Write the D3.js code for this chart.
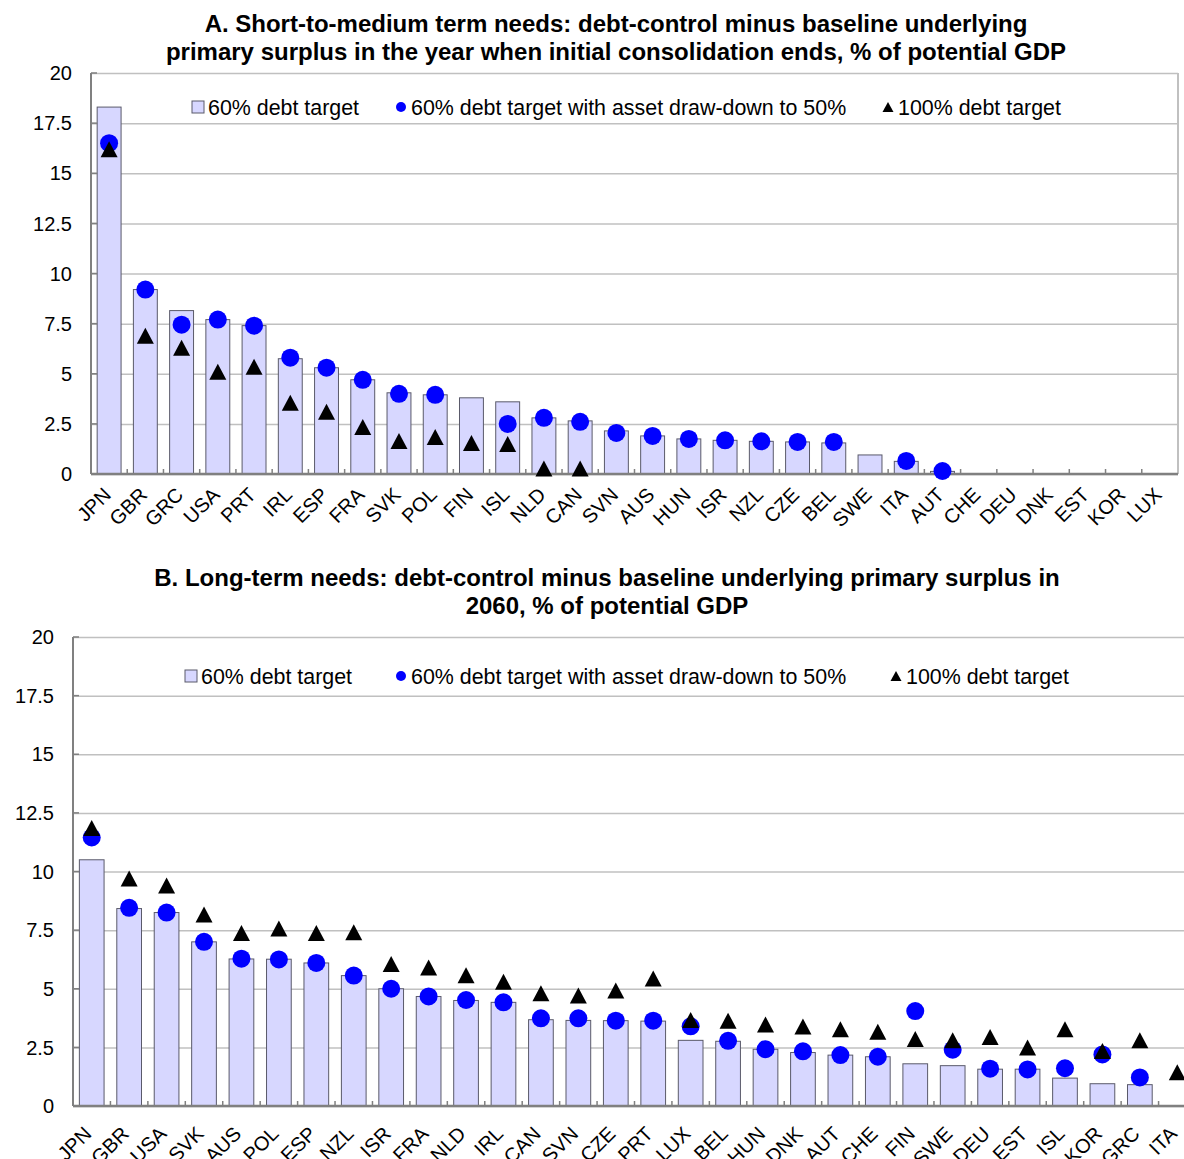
<!DOCTYPE html>
<html>
<head>
<meta charset="utf-8">
<script src="https://cdn.jsdelivr.net/npm/d3@7"></script>
<style>
  body { margin: 0; background: #fff; }
  svg { display: block; font-family: 'Liberation Sans', Arial, sans-serif; }
  .grid line { stroke: #c0c0c0; stroke-width: 1.5; }
  .grid path { display: none; }
</style>
</head>
<body>
<div id="chart"></div>
<script>
// Panel A data: year when initial consolidation ends
var catsA = ['JPN', 'GBR', 'GRC', 'USA', 'PRT', 'IRL', 'ESP', 'FRA', 'SVK', 'POL', 'FIN', 'ISL', 'NLD', 'CAN', 'SVN',
  'AUS', 'HUN', 'ISR', 'NZL', 'CZE', 'BEL', 'SWE', 'ITA', 'AUT', 'CHE', 'DEU', 'DNK', 'EST', 'KOR', 'LUX'];
var barA = [18.3, 9.2, 8.15, 7.7, 7.4, 5.75, 5.3, 4.7, 4.05, 3.95, 3.8, 3.6, 2.8, 2.65, 2.15,
  1.9, 1.75, 1.68, 1.63, 1.6, 1.55, 0.95, 0.63, 0.13, 0, 0, 0, 0, 0, 0];
var circA = [16.5, 9.2, 7.45, 7.7, 7.4, 5.8, 5.3, 4.7, 4.0, 3.95, null, 2.5, 2.8, 2.6, 2.05,
  1.9, 1.75, 1.68, 1.63, 1.6, 1.6, null, 0.65, 0.15, null, null, null, null, null, null];
var triA = [16.2, 6.9, 6.3, 5.1, 5.35, 3.55, 3.1, 2.35, 1.65, 1.85, 1.55, 1.5, 0.28, 0.28, null,
  null, null, null, null, null, null, null, null, null, null, null, null, null, null, null];

// Panel B data: 2060
var catsB = ['JPN', 'GBR', 'USA', 'SVK', 'AUS', 'POL', 'ESP', 'NZL', 'ISR', 'FRA', 'NLD', 'IRL', 'CAN', 'SVN', 'CZE',
  'PRT', 'LUX', 'BEL', 'HUN', 'DNK', 'AUT', 'CHE', 'FIN', 'SWE', 'DEU', 'EST', 'ISL', 'KOR', 'GRC', 'ITA'];
var barB = [10.5, 8.42, 8.25, 7.0, 6.27, 6.26, 6.1, 5.56, 5.0, 4.67, 4.5, 4.42, 3.68, 3.65, 3.64,
  3.62, 2.8, 2.76, 2.42, 2.28, 2.17, 2.1, 1.8, 1.72, 1.57, 1.57, 1.19, 0.95, 0.91, 0];
var circB = [11.45, 8.45, 8.25, 7.0, 6.28, 6.25, 6.1, 5.56, 5.0, 4.67, 4.52, 4.42, 3.74, 3.74, 3.64,
  3.64, 3.4, 2.78, 2.42, 2.33, 2.17, 2.1, 4.05, 2.4, 1.59, 1.56, 1.61, 2.2, 1.22, null];
var triB = [11.85, 9.7, 9.4, 8.17, 7.38, 7.57, 7.38, 7.41, 6.06, 5.91, 5.58, 5.3, 4.81, 4.71, 4.93,
  5.44, 3.67, 3.64, 3.48, 3.39, 3.27, 3.17, 2.86, 2.8, 2.94, 2.49, 3.27, 2.35, 2.8, 1.44];

var yTicks = [0, 2.5, 5, 7.5, 10, 12.5, 15, 17.5, 20];
var legendLabels = ['60% debt target', '60% debt target with asset draw-down to 50%', '100% debt target'];

var titleA = ['A. Short-to-medium term needs: debt-control minus baseline underlying',
  'primary surplus in the year when initial consolidation ends, % of potential GDP'];
var titleB = ['B. Long-term needs: debt-control minus baseline underlying primary surplus in',
  '2060, % of potential GDP'];

var width = 1184;
var height = 1159;

var svg = d3.select('#chart').append('svg')
  .attr('width', width)
  .attr('height', height);

// 三角マーカー（外接矩形の中心が値の位置）
function triPath(w, h) {
  return 'M0,' + (-h / 2) + 'L' + (w / 2) + ',' + (h / 2) + 'L' + (-w / 2) + ',' + (h / 2) + 'Z';
}

function drawPanel(opt) {
  var x = d3.scaleBand().domain(opt.cats).range([opt.left, opt.right]).paddingInner(0.34).paddingOuter(0.17);
  var y = d3.scaleLinear().domain([0, 20]).range([opt.bottom, opt.top]);
  var g = svg.append('g');

  // title
  g.selectAll('.title').data(opt.title).enter().append('text')
    .attr('x', opt.titleX)
    .attr('y', function(d, i) { return opt.titleY + i * 28; })
    .attr('text-anchor', 'middle')
    .attr('font-weight', 'bold')
    .attr('font-size', 24)
    .text(function(d) { return d; });

  // horizontal grid lines
  g.append('g').attr('class', 'grid')
    .attr('transform', 'translate(' + opt.left + ',0)')
    .call(d3.axisLeft(y).tickValues(yTicks).tickSize(-(opt.right - opt.left)).tickFormat(''));

  // right border
  g.append('line')
    .attr('x1', opt.right).attr('x2', opt.right)
    .attr('y1', opt.top).attr('y2', opt.bottom)
    .attr('stroke', '#c0c0c0').attr('stroke-width', 2);

  // y axis labels
  g.selectAll('.ylab').data(yTicks).enter().append('text')
    .attr('x', opt.left - 19)
    .attr('y', function(d) { return y(d); })
    .attr('dy', '0.36em')
    .attr('text-anchor', 'end')
    .attr('font-size', 20)
    .text(function(d) { return d; });

  // bars
  g.selectAll('.bar').data(opt.bars.map(function(v, i) { return {c: opt.cats[i], v: v}; })
    .filter(function(d) { return d.v > 0; }))
    .enter().append('rect')
    .attr('x', function(d) { return x(d.c); })
    .attr('y', function(d) { return y(d.v); })
    .attr('width', x.bandwidth())
    .attr('height', function(d) { return y(0) - y(d.v); })
    .attr('fill', '#d7d7ff')
    .attr('stroke', '#5a5a6a')
    .attr('stroke-width', 1);

  // axis lines
  g.append('line')
    .attr('x1', opt.left).attr('x2', opt.left)
    .attr('y1', opt.top).attr('y2', opt.bottom)
    .attr('stroke', '#808080').attr('stroke-width', 2);
  g.append('line')
    .attr('x1', opt.left).attr('x2', opt.right)
    .attr('y1', opt.bottom).attr('y2', opt.bottom)
    .attr('stroke', '#808080').attr('stroke-width', 2.5);

  // y tick marks (inside)
  g.selectAll('.ytick').data(yTicks).enter().append('line')
    .attr('x1', opt.left).attr('x2', opt.left + 6)
    .attr('y1', function(d) { return y(d); })
    .attr('y2', function(d) { return y(d); })
    .attr('stroke', '#808080').attr('stroke-width', 1.5);

  // category tick marks between bands
  var step = x.step();
  g.selectAll('.xtick').data(opt.cats.slice(1)).enter().append('line')
    .attr('x1', function(d) { return x(d) - step * 0.17; })
    .attr('x2', function(d) { return x(d) - step * 0.17; })
    .attr('y1', opt.bottom).attr('y2', opt.bottom - 5)
    .attr('stroke', '#808080').attr('stroke-width', 1.5);

  // category labels
  g.selectAll('.xlab').data(opt.cats).enter().append('text')
    .attr('transform', function(d) {
      return 'translate(' + (x(d) + x.bandwidth() / 2 + opt.labDx) + ',' + (opt.bottom + opt.labDy) + ') rotate(-45)';
    })
    .attr('text-anchor', 'end')
    .attr('font-size', 20)
    .text(function(d) { return d; });

  // circles
  g.selectAll('.dot').data(opt.circ.map(function(v, i) { return {c: opt.cats[i], v: v}; })
    .filter(function(d) { return d.v !== null; }))
    .enter().append('circle')
    .attr('cx', function(d) { return x(d.c) + x.bandwidth() / 2; })
    .attr('cy', function(d) { return y(d.v); })
    .attr('r', 9)
    .attr('fill', '#0000ff');

  // triangles
  g.selectAll('.tri').data(opt.tri.map(function(v, i) { return {c: opt.cats[i], v: v}; })
    .filter(function(d) { return d.v !== null; }))
    .enter().append('path')
    .attr('transform', function(d) {
      return 'translate(' + (x(d.c) + x.bandwidth() / 2) + ',' + y(d.v) + ')';
    })
    .attr('d', triPath(17, 16))
    .attr('fill', '#000');

  // legend
  var lg = g.append('g').attr('transform', 'translate(0,' + opt.legendY + ')');
  lg.append('rect')
    .attr('x', opt.legendX[0]).attr('y', -6).attr('width', 12).attr('height', 12)
    .attr('fill', '#d7d7ff').attr('stroke', '#5a5a6a');
  lg.append('circle')
    .attr('cx', opt.legendX[1] + 6).attr('cy', 0).attr('r', 5).attr('fill', '#0000ff');
  lg.append('path')
    .attr('transform', 'translate(' + (opt.legendX[2] + 6) + ',0)')
    .attr('d', triPath(11, 10)).attr('fill', '#000');
  lg.selectAll('.ltxt').data(legendLabels).enter().append('text')
    .attr('x', function(d, i) { return opt.legendX[i] + 16; })
    .attr('y', 0)
    .attr('dy', '0.36em')
    .attr('font-size', 21.4)
    .text(function(d) { return d; });
}

drawPanel({
  cats: catsA, bars: barA, circ: circA, tri: triA, title: titleA,
  left: 91, right: 1178, top: 73, bottom: 474,
  titleX: 616, titleY: 32,
  labDx: 3, labDy: 22,
  legendY: 107, legendX: [192, 395, 882]
});

drawPanel({
  cats: catsB, bars: barB, circ: circB, tri: triB, title: titleB,
  left: 73, right: 1196, top: 637, bottom: 1106,
  titleX: 607, titleY: 586,
  labDx: 1, labDy: 29,
  legendY: 676, legendX: [185, 395, 890]
});
</script>
</body>
</html>
